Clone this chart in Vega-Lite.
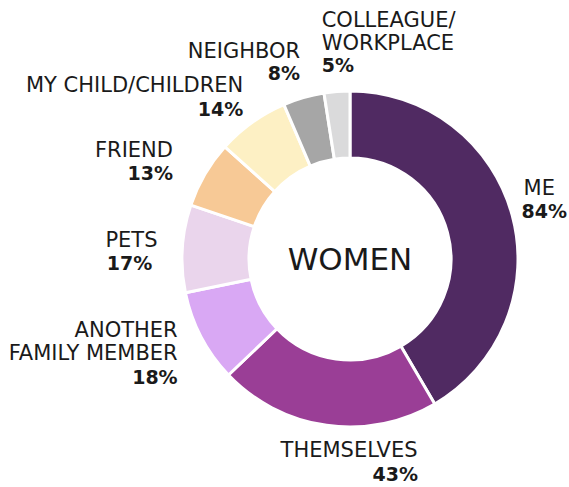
{
  "$schema": "https://vega.github.io/schema/vega-lite/v6.json",
  "autosize": {"type": "none"},
  "padding": {"left": 131, "top": 31, "right": 0, "bottom": 0},
  "width": 438,
  "height": 456,
  "background": "white",
  "config": {"view": {"stroke": null}, "text": {"font": "DejaVu Sans", "color": "#1a1a1a", "lineBreak": "\n", "lineHeight": 23, "baseline": "alphabetic"}},
  "data": {"values": [
    {"cat": "ME", "label": "ME", "pct": "84%", "value": 84, "idx": 1},
    {"cat": "THEMSELVES", "label": "THEMSELVES", "pct": "43%", "value": 43, "idx": 2},
    {"cat": "ANOTHER FAMILY MEMBER", "label": "ANOTHER\nFAMILY MEMBER", "pct": "18%", "value": 18, "idx": 3},
    {"cat": "PETS", "label": "PETS", "pct": "17%", "value": 17, "idx": 4},
    {"cat": "FRIEND", "label": "FRIEND", "pct": "13%", "value": 13, "idx": 5},
    {"cat": "MY CHILD/CHILDREN", "label": "MY CHILD/CHILDREN", "pct": "14%", "value": 14, "idx": 6},
    {"cat": "NEIGHBOR", "label": "NEIGHBOR", "pct": "8%", "value": 8, "idx": 7},
    {"cat": "COLLEAGUE/WORKPLACE", "label": "COLLEAGUE/\nWORKPLACE", "pct": "5%", "value": 5, "idx": 8}
  ]},
  "encoding": {
    "theta": {"field": "value", "type": "quantitative", "stack": true},
    "order": {"field": "idx", "type": "quantitative"}
  },
  "layer": [
    {
      "mark": {"type": "arc", "innerRadius": 101, "outerRadius": 168, "stroke": "white", "strokeWidth": 3},
      "encoding": {
        "color": {"field": "cat", "type": "nominal", "legend": null,
          "scale": {
            "domain": ["ME", "THEMSELVES", "ANOTHER FAMILY MEMBER", "PETS", "FRIEND", "MY CHILD/CHILDREN", "NEIGHBOR", "COLLEAGUE/WORKPLACE"],
            "range": ["#502a62", "#9a3e96", "#d9a8f4", "#ead5ec", "#f7c996", "#fdf0c4", "#a6a6a6", "#dadadb"]
          }
        }
      }
    },
    {
      "mark": {"type": "text", "radius": 0, "align": "center", "dy": 11, "fontSize": 31},
      "encoding": {"text": {"condition": {"test": "datum.idx === 1", "value": "WOMEN"}, "value": ""}}
    },
    {
      "mark": {"type": "text", "radius": 185, "align": "left", "dx": -5, "dy": -16, "fontSize": 21},
      "encoding": {"text": {"condition": {"test": "datum.idx === 1", "field": "label"}, "value": ""}}
    },
    {
      "mark": {"type": "text", "radius": 185, "align": "left", "dx": -7, "dy": 7, "fontSize": 19, "fontWeight": "bold"},
      "encoding": {"text": {"condition": {"test": "datum.idx === 1", "field": "pct"}, "value": ""}}
    },
    {
      "mark": {"type": "text", "radius": 200, "align": "center", "dx": 27, "dy": 0, "fontSize": 21},
      "encoding": {"text": {"condition": {"test": "datum.idx === 2", "field": "label"}, "value": ""}}
    },
    {
      "mark": {"type": "text", "radius": 200, "align": "right", "dx": 96, "dy": 24, "fontSize": 19, "fontWeight": "bold"},
      "encoding": {"text": {"condition": {"test": "datum.idx === 2", "field": "pct"}, "value": ""}}
    },
    {
      "mark": {"type": "text", "radius": 190, "align": "right", "dx": -4, "dy": -10, "fontSize": 21},
      "encoding": {"text": {"condition": {"test": "datum.idx === 3", "field": "label"}, "value": ""}}
    },
    {
      "mark": {"type": "text", "radius": 190, "align": "right", "dx": -4, "dy": 37, "fontSize": 19, "fontWeight": "bold"},
      "encoding": {"text": {"condition": {"test": "datum.idx === 3", "field": "pct"}, "value": ""}}
    },
    {
      "mark": {"type": "text", "radius": 219, "align": "center", "dx": 0, "dy": 2, "fontSize": 21},
      "encoding": {"text": {"condition": {"test": "datum.idx === 4", "field": "label"}, "value": ""}}
    },
    {
      "mark": {"type": "text", "radius": 219, "align": "center", "dx": -2, "dy": 25, "fontSize": 19, "fontWeight": "bold"},
      "encoding": {"text": {"condition": {"test": "datum.idx === 4", "field": "pct"}, "value": ""}}
    },
    {
      "mark": {"type": "text", "radius": 205, "align": "right", "dx": 0, "dy": 1, "fontSize": 21},
      "encoding": {"text": {"condition": {"test": "datum.idx === 5", "field": "label"}, "value": ""}}
    },
    {
      "mark": {"type": "text", "radius": 205, "align": "right", "dx": 0, "dy": 24, "fontSize": 19, "fontWeight": "bold"},
      "encoding": {"text": {"condition": {"test": "datum.idx === 5", "field": "pct"}, "value": ""}}
    },
    {
      "mark": {"type": "text", "radius": 190, "align": "right", "dx": 4, "dy": -13, "fontSize": 21},
      "encoding": {"text": {"condition": {"test": "datum.idx === 6", "field": "label"}, "value": ""}}
    },
    {
      "mark": {"type": "text", "radius": 190, "align": "right", "dx": 4, "dy": 11, "fontSize": 19, "fontWeight": "bold"},
      "encoding": {"text": {"condition": {"test": "datum.idx === 6", "field": "pct"}, "value": ""}}
    },
    {
      "mark": {"type": "text", "radius": 195, "align": "right", "dx": 4, "dy": -14, "fontSize": 21},
      "encoding": {"text": {"condition": {"test": "datum.idx === 7", "field": "label"}, "value": ""}}
    },
    {
      "mark": {"type": "text", "radius": 195, "align": "right", "dx": 4, "dy": 8, "fontSize": 19, "fontWeight": "bold"},
      "encoding": {"text": {"condition": {"test": "datum.idx === 7", "field": "pct"}, "value": ""}}
    },
    {
      "mark": {"type": "text", "radius": 210, "align": "left", "dx": -12, "dy": -23, "fontSize": 21},
      "encoding": {"text": {"condition": {"test": "datum.idx === 8", "field": "label"}, "value": ""}}
    },
    {
      "mark": {"type": "text", "radius": 210, "align": "left", "dx": -12, "dy": 22, "fontSize": 19, "fontWeight": "bold"},
      "encoding": {"text": {"condition": {"test": "datum.idx === 8", "field": "pct"}, "value": ""}}
    }
  ]
}
